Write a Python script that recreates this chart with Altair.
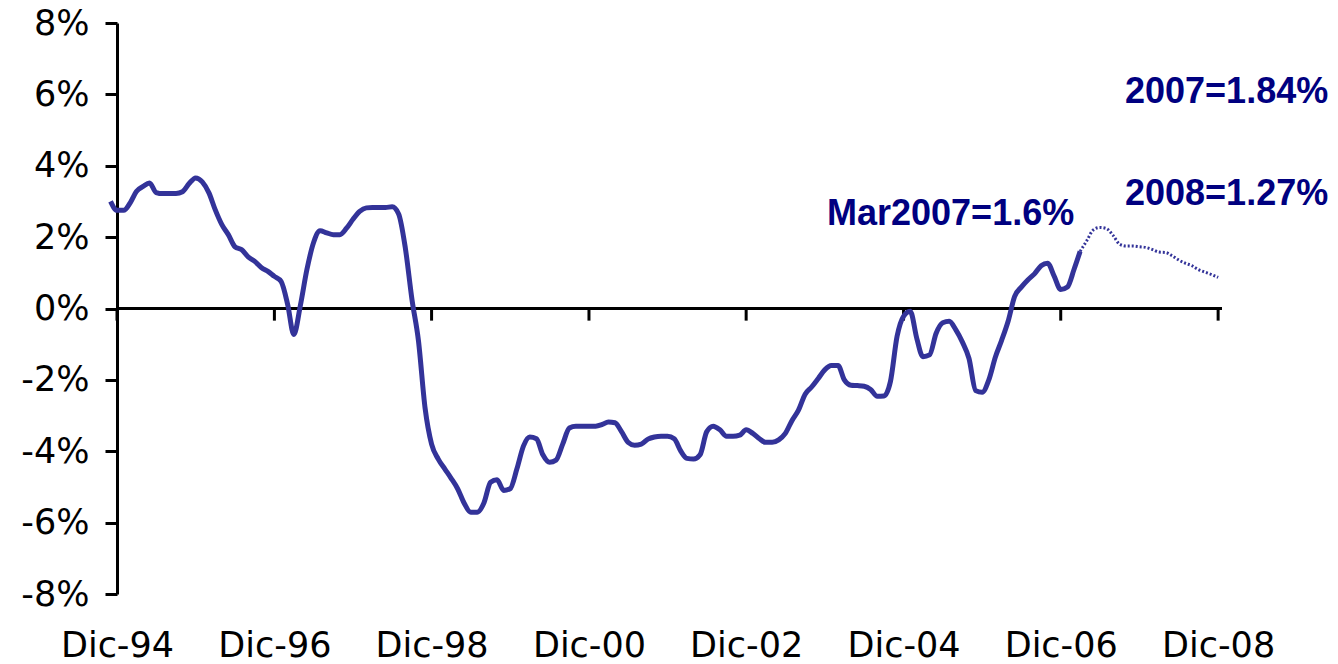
import json
import altair as alt
import pandas as pd

# ---- data (percent, monthly) ----
start_month = "1994-11-01"
actual_values = [
    3.0, 2.75, 2.75, 2.97, 3.28, 3.42, 3.52, 3.25, 3.22, 3.22, 3.22, 3.27, 3.5,   # Nov94..Nov95
    3.66, 3.55, 3.24, 2.77, 2.35, 2.07, 1.73, 1.65, 1.45, 1.32, 1.15, 1.04,        # Dec95..Nov96
    0.9, 0.76, 0.1, -0.73, 0.1, 1.09, 1.85, 2.18, 2.12, 2.07, 2.07, 2.25,          # Dec96..Nov97
    2.5, 2.72, 2.82, 2.83, 2.83, 2.83, 2.85, 2.65, 1.7, 0.25, -0.9, -2.8,          # Dec97..Nov98
    -3.8, -4.22, -4.5, -4.75, -5.05, -5.45, -5.71, -5.71, -5.45, -4.87, -4.8, -5.1,  # Dec98..Nov99
    -5.05, -4.5, -3.85, -3.6, -3.65, -4.1, -4.31, -4.25, -3.8, -3.35, -3.3, -3.3,    # Dec99..Nov00
    -3.3, -3.3, -3.25, -3.18, -3.2, -3.45, -3.75, -3.83, -3.8, -3.66, -3.6, -3.58,   # Dec00..Nov01
    -3.58, -3.65, -4.0, -4.2, -4.22, -4.1, -3.45, -3.3, -3.4, -3.58, -3.58, -3.55,   # Dec01..Nov02
    -3.4, -3.5, -3.65, -3.75, -3.75, -3.68, -3.5, -3.15, -2.85, -2.4, -2.2, -1.96,   # Dec02..Nov03
    -1.72, -1.6, -1.6, -2.0, -2.15, -2.16, -2.18, -2.27, -2.46, -2.45, -2.05, -0.78, # Dec03..Nov04
    -0.22, -0.08, -0.85, -1.35, -1.3, -0.7, -0.4, -0.36, -0.6, -0.95, -1.4, -2.3,    # Dec04..Nov05
    -2.35, -2.0, -1.35, -0.9, -0.35, 0.34, 0.6, 0.8, 0.97, 1.2, 1.27, 0.9,           # Dec05..Nov06
    0.53, 0.6, 1.1, 1.6,                                                             # Dec06..Mar07
]
forecast_start = "2007-03-01"
forecast_values = [
    1.6, 1.9, 2.2, 2.27, 2.24, 2.05, 1.8, 1.75, 1.75, 1.73, 1.71, 1.65,   # Mar07..Feb08
    1.58, 1.57, 1.48, 1.36, 1.27, 1.2, 1.09, 1.02, 0.95, 0.87,             # Mar08..Dec08
]
tick_years = [1994, 1996, 1998, 2000, 2002, 2004, 2006, 2008]
tick_labels = ["Dic-94", "Dic-96", "Dic-98", "Dic-00", "Dic-02", "Dic-04", "Dic-06", "Dic-08"]
y_ticks = [-8, -6, -4, -2, 0, 2, 4, 6, 8]
annotations = ["2007=1.84%", "2008=1.27%", "Mar2007=1.6%"]

# ---- tables ----
actual = pd.DataFrame({
    "date": pd.date_range(start_month, periods=len(actual_values), freq="MS"),
    "value": actual_values,
})
forecast = pd.DataFrame({
    "date": pd.date_range(forecast_start, periods=len(forecast_values), freq="MS"),
    "value": forecast_values,
})
ticks = pd.DataFrame({"date": [pd.Timestamp(year=y, month=12, day=1) for y in tick_years]})

LINE = "#333399"
TEXT = "#000080"
AXFONT = "DejaVu Sans"

x_scale = alt.Scale(domain=[alt.DateTime(year=1994, month=12, date=1),
                            alt.DateTime(year=2008, month=12, date=19)])
y_scale = alt.Scale(domain=[-8, 8], nice=False, zero=False)

label_expr = (f"{json.dumps(tick_labels)}[indexof({json.dumps(tick_years)}, year(datum.value))]")

x_axis = alt.Axis(
    values=[alt.DateTime(year=y, month=12, date=1) for y in tick_years],
    labelExpr=label_expr, domain=False, ticks=False, grid=False,
    labelFont=AXFONT, labelFontSize=35, labelColor="#000000",
    labelBaseline="alphabetic", labelPadding=62, labelFlush=False,
    labelAlign="center", labelOverlap=False, title=None,
)
y_axis = alt.Axis(
    values=y_ticks, labelExpr="datum.value + '%'", grid=False,
    domainColor="#000000", domainWidth=3, tickColor="#000000", tickWidth=3,
    tickSize=12, labelFont=AXFONT, labelFontSize=35, labelColor="#000000",
    labelPadding=16, title=None,
)

base_line = alt.Chart(actual).mark_line(
    color=LINE, strokeWidth=5, interpolate="monotone"
).encode(
    x=alt.X("date:T", scale=x_scale, axis=x_axis),
    y=alt.Y("value:Q", scale=y_scale, axis=y_axis),
)

fc_line = alt.Chart(forecast).mark_line(
    color=LINE, strokeWidth=3, strokeDash=[2, 2], interpolate="monotone"
).encode(x="date:T", y="value:Q")

zero_rule = alt.Chart(actual).mark_rule(color="#000000", strokeWidth=3).encode(
    y=alt.datum(0)
)

tick_rules = alt.Chart(ticks).mark_rule(color="#000000", strokeWidth=3).encode(
    x="date:T", y=alt.datum(0), y2=alt.datum(-0.34)
)

def note(text, px, py):
    return alt.Chart(pd.DataFrame({"t": [text]})).mark_text(
        font="Liberation Sans", fontWeight="bold", fontSize=36, color=TEXT,
        align="left", baseline="alphabetic"
    ).encode(text="t:N", x=alt.value(px), y=alt.value(py))

chart = alt.layer(
    zero_rule, tick_rules, base_line, fc_line,
    note(annotations[0], 1008, 80),
    note(annotations[1], 1008, 182),
    note(annotations[2], 710, 202),
).properties(
    width=1105, height=571,
    padding={"left": 109, "top": 15, "right": 108, "bottom": 70},
    autosize=alt.AutoSizeParams(type="none"),
).configure_view(stroke=None)

chart.save("out.html", embed_options={"renderer": "svg", "actions": False})
